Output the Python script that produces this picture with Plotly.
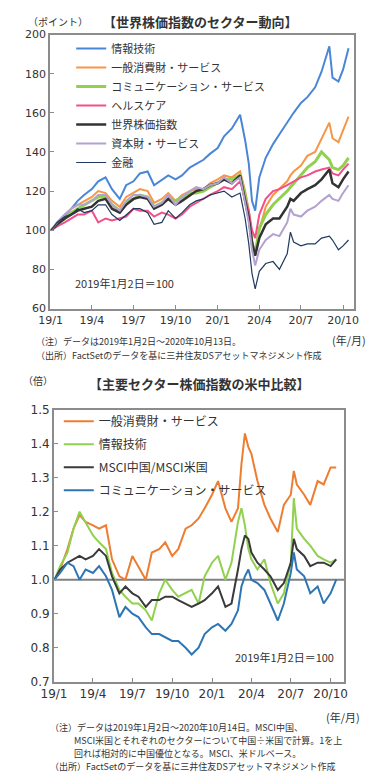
import plotly.graph_objects as go

W, H = 391, 784
JP = "Noto Sans CJK JP"
NUM = "DejaVu Sans"

# ---------------- top chart data (2019/1/2 = 100) ----------------
top_dates = ["2019-01-02", "2019-01-15", "2019-02-01", "2019-02-15", "2019-03-01", "2019-03-15",
             "2019-04-01", "2019-04-15", "2019-05-01", "2019-05-15", "2019-06-01", "2019-06-15",
             "2019-07-01", "2019-07-15", "2019-08-01", "2019-08-15", "2019-09-01", "2019-09-15",
             "2019-10-01", "2019-10-15", "2019-11-01", "2019-11-15", "2019-12-01", "2019-12-15",
             "2020-01-01", "2020-01-15", "2020-02-01", "2020-02-19", "2020-03-01", "2020-03-09",
             "2020-03-16", "2020-03-23", "2020-04-01", "2020-04-15", "2020-05-01", "2020-05-15",
             "2020-06-01", "2020-06-08", "2020-06-15", "2020-07-01", "2020-07-15", "2020-08-01",
             "2020-08-15", "2020-09-01", "2020-09-08", "2020-09-21", "2020-10-01", "2020-10-13"]

info_tech = [100, 102, 107, 111, 115, 118, 121, 125, 127, 121, 116, 123, 125, 129, 130, 123, 126, 128,
             126, 128, 132, 134, 136, 139, 142, 148, 152, 159, 146, 134, 115, 110, 127, 137, 144, 149,
             155, 158, 160, 165, 168, 173, 181, 194, 178, 176, 182, 193]
cons_disc = [100, 104, 108, 111, 113, 115, 117, 120, 119, 115, 112, 117, 119, 121, 120, 114, 116, 119,
             115, 118, 120, 121, 121, 124, 126, 128, 127, 130, 120, 110, 95, 88, 100, 112, 118, 121,
             125, 128, 130, 133, 138, 140, 147, 155, 147, 145, 151, 158]
comm_svc = [100, 103, 106, 109, 111, 113, 115, 117, 117, 113, 110, 114, 116, 118, 117, 112, 114, 116,
            115, 117, 119, 119, 120, 122, 124, 126, 126, 128, 118, 108, 93, 88, 101, 108, 113, 116,
            120, 122, 124, 128, 132, 135, 140, 136, 132, 131, 133, 137]
health = [100, 102, 104, 106, 108, 108, 110, 104, 106, 105, 106, 107, 111, 110, 110, 107, 109, 108,
          106, 108, 112, 114, 116, 118, 120, 122, 121, 125, 116, 110, 100, 96, 108, 116, 120, 121,
          123, 124, 125, 127, 128, 130, 131, 132, 129, 128, 131, 134]
world = [100, 103, 106, 108, 110, 111, 112, 115, 116, 111, 109, 113, 116, 117, 116, 111, 113, 116,
         113, 115, 118, 120, 121, 123, 124, 126, 124, 128, 115, 106, 94, 87, 96, 103, 106, 106,
         112, 116, 115, 119, 121, 123, 126, 131, 124, 122, 126, 130]
industrials = [100, 104, 108, 111, 113, 113, 115, 118, 118, 113, 110, 115, 118, 118, 117, 112, 114, 118,
               113, 117, 120, 122, 121, 123, 124, 127, 124, 127, 114, 104, 90, 82, 90, 95, 98, 97,
               104, 111, 108, 107, 110, 112, 115, 118, 116, 115, 119, 123]
financials = [100, 104, 107, 108, 111, 109, 110, 113, 113, 108, 105, 108, 111, 111, 109, 103, 104, 110,
              106, 109, 113, 115, 116, 118, 119, 120, 117, 119, 106, 93, 78, 70, 79, 83, 84, 80,
              88, 99, 94, 92, 93, 93, 96, 97, 95, 90, 92, 95]
top_names = ["情報技術", "一般消費財・サービス", "コミュニケーション・サービス", "ヘルスケア",
             "世界株価指数", "資本財・サービス", "金融"]

# ---------------- bottom chart data (China / US ratio) ----------------
bot_dates = ["2019-01-02", "2019-01-15", "2019-02-01", "2019-02-15", "2019-03-01", "2019-03-15",
             "2019-04-01", "2019-04-15", "2019-05-01", "2019-05-15", "2019-06-01", "2019-06-15",
             "2019-07-01", "2019-07-15", "2019-08-01", "2019-08-15", "2019-09-01", "2019-09-15",
             "2019-10-01", "2019-10-15", "2019-11-01", "2019-11-15", "2019-12-01", "2019-12-15",
             "2020-01-01", "2020-01-15", "2020-02-01", "2020-02-15", "2020-03-01", "2020-03-09",
             "2020-03-17", "2020-03-25", "2020-04-01", "2020-04-15", "2020-05-01", "2020-05-15",
             "2020-06-01", "2020-06-15", "2020-07-01", "2020-07-08", "2020-07-15", "2020-08-01",
             "2020-08-15", "2020-09-01", "2020-09-15", "2020-10-01", "2020-10-14"]
r_cons_disc = [1.00, 1.03, 1.09, 1.15, 1.19, 1.17, 1.16, 1.15, 1.16, 1.06, 1.01, 1.00, 1.07, 1.04,
               1.00, 1.08, 1.09, 1.11, 1.07, 1.09, 1.15, 1.16, 1.18, 1.21, 1.25, 1.29, 1.21, 1.17,
               1.21, 1.34, 1.43, 1.39, 1.37, 1.29, 1.22, 1.18, 1.14, 1.22, 1.25, 1.32, 1.28, 1.25,
               1.22, 1.29, 1.28, 1.33, 1.33]
r_info_tech = [1.00, 1.04, 1.08, 1.15, 1.20, 1.17, 1.13, 1.11, 1.09, 1.02, 0.97, 0.95, 0.93, 0.93,
               0.91, 0.88, 0.96, 1.00, 0.97, 0.95, 0.96, 0.97, 0.93, 1.01, 1.05, 1.07, 1.00, 1.05,
               1.17, 1.21, 1.16, 1.09, 1.06, 1.03, 1.06, 0.99, 0.93, 0.96, 1.05, 1.24, 1.15, 1.12,
               1.10, 1.07, 1.06, 1.05, 1.06]
r_msci = [1.00, 1.03, 1.05, 1.06, 1.07, 1.06, 1.07, 1.09, 1.07, 1.01, 0.96, 0.98, 0.96, 0.95,
          0.92, 0.94, 0.94, 0.95, 0.95, 0.94, 0.93, 0.92, 0.93, 0.94, 0.96, 0.98, 0.92, 0.93,
          1.03, 1.09, 1.13, 1.12, 1.08, 1.05, 1.03, 1.01, 0.97, 0.99, 1.05, 1.12, 1.09, 1.07,
          1.04, 1.05, 1.05, 1.04, 1.06]
r_comm_svc = [1.00, 1.02, 1.05, 1.04, 1.00, 1.03, 1.02, 1.04, 1.01, 0.97, 0.89, 0.92, 0.90, 0.89,
              0.86, 0.84, 0.84, 0.83, 0.82, 0.82, 0.80, 0.78, 0.80, 0.84, 0.86, 0.87, 0.85, 0.87,
              0.91, 0.98, 1.01, 1.03, 1.00, 0.99, 0.97, 0.93, 0.88, 0.93, 1.02, 1.08, 1.03, 1.01,
              0.96, 0.98, 0.93, 0.96, 1.00]
bot_names = ["一般消費財・サービス", "情報技術", "MSCI中国/MSCI米国", "コミュニケーション・サービス"]

tick_dates = ["2019-01-01", "2019-04-01", "2019-07-01", "2019-10-01",
              "2020-01-01", "2020-04-01", "2020-07-01", "2020-10-01"]
tick_text = ["19/1", "19/4", "19/7", "19/10", "20/1", "20/4", "20/7", "20/10"]
top_yticks = [60, 80, 100, 120, 140, 160, 180, 200]
bot_yticks = [0.7, 0.8, 0.9, 1.0, 1.1, 1.2, 1.3, 1.4, 1.5]


def px(x):
    return x / W


def py(y):
    return 1 - y / H


fig = go.Figure()

top_series = [info_tech, cons_disc, comm_svc, health, world, industrials, financials]
top_colors = ["#4A86D8", "#F79646", "#92D050", "#F2508A", "#333333", "#B3A2D1", "#1F3A60"]
top_widths = [2, 2, 3, 2, 2.5, 2, 1.2]
for name, vals, c, w in zip(top_names, top_series, top_colors, top_widths):
    fig.add_trace(go.Scatter(x=top_dates, y=vals, name=name, mode="lines",
                             line=dict(color=c, width=w), xaxis="x", yaxis="y",
                             legend="legend", legendgroup=name))

bot_series = [r_cons_disc, r_info_tech, r_msci, r_comm_svc]
bot_colors = ["#ED7D31", "#92D050", "#3A3A3A", "#2E75B6"]
for name, vals, c in zip(bot_names, bot_series, bot_colors):
    fig.add_trace(go.Scatter(x=bot_dates, y=vals, name=name, mode="lines",
                             line=dict(color=c, width=2), xaxis="x2", yaxis="y2",
                             legend="legend2", legendgroup="b" + name))

axis_gray = "#8C8C8C"
common_x = dict(type="date", tickmode="array", tickvals=tick_dates, ticktext=tick_text,
                showgrid=False, zeroline=False, showline=True, linecolor=axis_gray, linewidth=2,
                mirror=True, ticks="inside", ticklen=4, tickcolor=axis_gray,
                tickfont=dict(family=NUM, size=11, color="#333333"))
common_y = dict(showgrid=False, zeroline=False, showline=True, linecolor=axis_gray, linewidth=2,
                mirror=True, ticks="inside", ticklen=4, tickcolor=axis_gray,
                tickfont=dict(family=NUM, size=11, color="#333333"))

fig.update_layout(
    width=W, height=H, margin=dict(l=0, r=0, t=0, b=0),
    paper_bgcolor="white", plot_bgcolor="white",
    xaxis=dict(common_x, domain=[px(39), px(357)], range=["2018-12-31", "2020-10-24"], anchor="y"),
    yaxis=dict(common_y, domain=[py(307), py(28)], range=[60, 200], tickvals=top_yticks, anchor="x"),
    xaxis2=dict(common_x, domain=[px(43), px(347)], range=["2019-01-01", "2020-11-01"], anchor="y2",
                tickfont=dict(family=NUM, size=12, color="#333333")),
    yaxis2=dict(common_y, domain=[py(687), py(410)], range=[0.7, 1.5], tickvals=bot_yticks,
                tickformat=".1f", anchor="x2", tickfont=dict(family=NUM, size=12, color="#333333")),
    legend=dict(x=px(61), y=py(27.5), xanchor="left", yanchor="top", bgcolor="rgba(0,0,0,0)",
                font=dict(family=JP, size=11, color="#333333"), tracegroupgap=0, itemwidth=30),
    legend2=dict(x=px(48), y=py(407), xanchor="left", yanchor="top", bgcolor="rgba(0,0,0,0)",
                 font=dict(family=JP, size=12, color="#333333"), tracegroupgap=4, itemwidth=30),
    showlegend=True,
)

fig.add_shape(type="line", xref="x2 domain", x0=0, x1=1, yref="y2", y0=1.0, y1=1.0,
              line=dict(color="#808080", width=2), layer="below")


def note(text, x, y, size=10, xanchor="left", bold=False, family=JP):
    fig.add_annotation(text=("<b>%s</b>" % text) if bold else text, x=px(x), y=py(y),
                       xref="paper", yref="paper", xanchor=xanchor, yanchor="middle",
                       align="left", showarrow=False,
                       font=dict(family=family, size=size, color="#333333"))


note("【世界株価指数のセクター動向】", 196, 15, size=13, xanchor="center", bold=True)
note("（ポイント）", 14, 15, size=10)
note("2019年1月2日＝100", 63, 281, size=11)
note("(年/月)", 372, 339, size=11, xanchor="right")
note("（注）データは2019年1月2日～2020年10月13日。", 22, 341, size=9)
note("（出所）FactSetのデータを基に三井住友DSアセットマネジメント作成", 22, 355, size=9)

note("【主要セクター株価指数の米中比較】", 195, 383, size=13, xanchor="center", bold=True)
note("（倍）", 8, 380, size=10)
note("2019年1月2日＝100", 339, 662, size=11, xanchor="right")
note("(年/月)", 366, 723, size=11, xanchor="right")
note("（注）データは2019年1月2日～2020年10月14日。MSCI中国、", 37, 734, size=9)
note("MSCI米国とそれぞれのセクターについて中国÷米国で計算。1を上", 62, 747, size=9)
note("回れば相対的に中国優位となる。MSCI、米ドルベース。", 62, 760, size=9)
note("（出所）FactSetのデータを基に三井住友DSアセットマネジメント作成", 37, 773, size=9)

fig.write_html("out.html", config={"displayModeBar": False},
               post_script="document.body.style.margin='0';")
